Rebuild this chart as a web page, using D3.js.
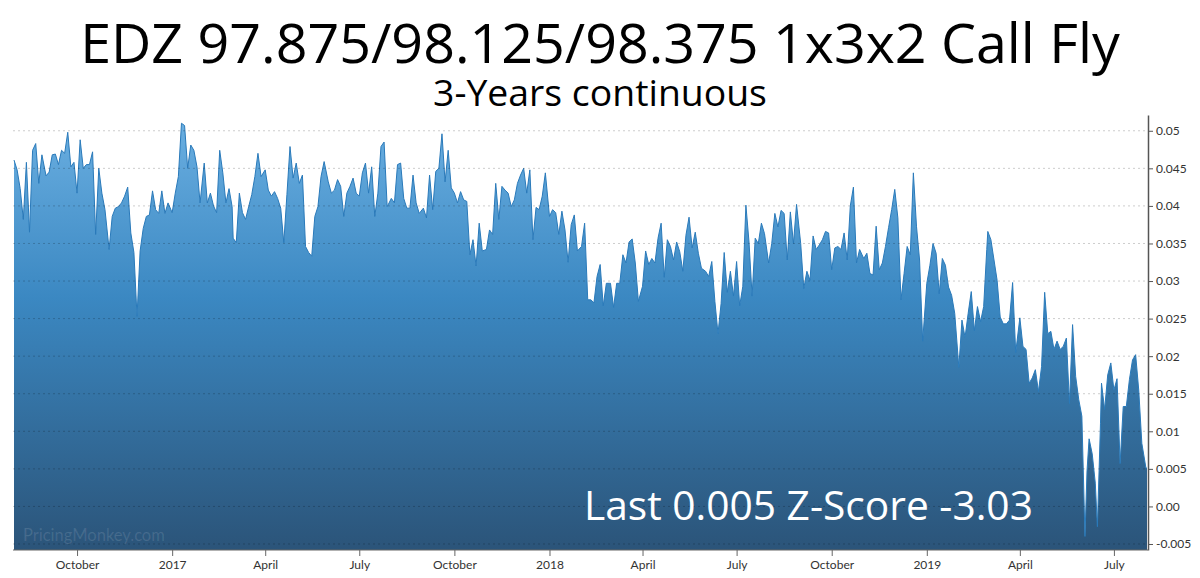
<!DOCTYPE html>
<html><head><meta charset="utf-8">
<script src="https://cdn.jsdelivr.net/npm/d3@7"></script>
<style>body{margin:0;background:#fff}svg{display:block}</style>
</head><body><svg id="c" width="1200" height="578"></svg>
<script>
const dates = [
"2016-08-01","2016-08-04","2016-08-07","2016-08-10","2016-08-13","2016-08-16","2016-08-19","2016-08-22","2016-08-25","2016-08-28",
"2016-09-01","2016-09-04","2016-09-07","2016-09-10","2016-09-13","2016-09-16","2016-09-19","2016-09-22","2016-09-25","2016-09-28",
"2016-10-01","2016-10-04","2016-10-07","2016-10-10","2016-10-13","2016-10-16","2016-10-19","2016-10-22","2016-10-25","2016-10-28",
"2016-11-01","2016-11-04","2016-11-07","2016-11-10","2016-11-13","2016-11-16","2016-11-19","2016-11-22","2016-11-25","2016-11-28",
"2016-12-01","2016-12-04","2016-12-07","2016-12-10","2016-12-13","2016-12-16","2016-12-19","2016-12-22","2016-12-25","2016-12-28",
"2017-01-01","2017-01-04","2017-01-07","2017-01-10","2017-01-13","2017-01-16","2017-01-19","2017-01-22","2017-01-25","2017-01-28",
"2017-02-01","2017-02-04","2017-02-07","2017-02-10","2017-02-13","2017-02-16","2017-02-19","2017-02-22","2017-02-25","2017-02-28",
"2017-03-01","2017-03-04","2017-03-07","2017-03-10","2017-03-13","2017-03-16","2017-03-19","2017-03-22","2017-03-25","2017-03-28",
"2017-04-01","2017-04-04","2017-04-07","2017-04-10","2017-04-13","2017-04-16","2017-04-19","2017-04-22","2017-04-25","2017-04-28",
"2017-05-01","2017-05-04","2017-05-07","2017-05-10","2017-05-13","2017-05-16","2017-05-19","2017-05-22","2017-05-25","2017-05-28",
"2017-06-01","2017-06-04","2017-06-07","2017-06-10","2017-06-13","2017-06-16","2017-06-19","2017-06-22","2017-06-25","2017-06-28",
"2017-07-01","2017-07-04","2017-07-07","2017-07-10","2017-07-13","2017-07-16","2017-07-19","2017-07-22","2017-07-25","2017-07-28",
"2017-08-01","2017-08-04","2017-08-07","2017-08-10","2017-08-13","2017-08-16","2017-08-19","2017-08-22","2017-08-25","2017-08-28",
"2017-09-01","2017-09-04","2017-09-07","2017-09-10","2017-09-13","2017-09-16","2017-09-19","2017-09-22","2017-09-25","2017-09-28",
"2017-10-01","2017-10-04","2017-10-07","2017-10-10","2017-10-13","2017-10-16","2017-10-19","2017-10-22","2017-10-25","2017-10-28",
"2017-11-01","2017-11-04","2017-11-07","2017-11-10","2017-11-13","2017-11-16","2017-11-19","2017-11-22","2017-11-25","2017-11-28",
"2017-12-01","2017-12-04","2017-12-07","2017-12-10","2017-12-13","2017-12-16","2017-12-19","2017-12-22","2017-12-25","2017-12-28",
"2018-01-01","2018-01-04","2018-01-07","2018-01-10","2018-01-13","2018-01-16","2018-01-19","2018-01-22","2018-01-25","2018-01-28",
"2018-02-01","2018-02-04","2018-02-07","2018-02-10","2018-02-13","2018-02-16","2018-02-19","2018-02-22","2018-02-25","2018-02-28",
"2018-03-01","2018-03-04","2018-03-07","2018-03-10","2018-03-13","2018-03-16","2018-03-19","2018-03-22","2018-03-25","2018-03-28",
"2018-04-01","2018-04-04","2018-04-07","2018-04-10","2018-04-13","2018-04-16","2018-04-19","2018-04-22","2018-04-25","2018-04-28",
"2018-05-01","2018-05-04","2018-05-07","2018-05-10","2018-05-13","2018-05-16","2018-05-19","2018-05-22","2018-05-25","2018-05-28",
"2018-06-01","2018-06-04","2018-06-07","2018-06-10","2018-06-13","2018-06-16","2018-06-19","2018-06-22","2018-06-25","2018-06-28",
"2018-07-01","2018-07-04","2018-07-07","2018-07-10","2018-07-13","2018-07-16","2018-07-19","2018-07-22","2018-07-25","2018-07-28",
"2018-08-01","2018-08-04","2018-08-07","2018-08-10","2018-08-13","2018-08-16","2018-08-19","2018-08-22","2018-08-25","2018-08-28",
"2018-09-01","2018-09-04","2018-09-07","2018-09-10","2018-09-13","2018-09-16","2018-09-19","2018-09-22","2018-09-25","2018-09-28",
"2018-10-01","2018-10-04","2018-10-07","2018-10-10","2018-10-13","2018-10-16","2018-10-19","2018-10-22","2018-10-25","2018-10-28",
"2018-11-01","2018-11-04","2018-11-07","2018-11-10","2018-11-13","2018-11-16","2018-11-19","2018-11-22","2018-11-25","2018-11-28",
"2018-12-01","2018-12-04","2018-12-07","2018-12-10","2018-12-13","2018-12-16","2018-12-19","2018-12-22","2018-12-25","2018-12-28",
"2019-01-01","2019-01-04","2019-01-07","2019-01-10","2019-01-13","2019-01-16","2019-01-19","2019-01-22","2019-01-25","2019-01-28",
"2019-02-01","2019-02-04","2019-02-07","2019-02-10","2019-02-13","2019-02-16","2019-02-19","2019-02-22","2019-02-25","2019-02-28",
"2019-03-01","2019-03-04","2019-03-07","2019-03-10","2019-03-13","2019-03-16","2019-03-19","2019-03-22","2019-03-25","2019-03-28",
"2019-04-01","2019-04-04","2019-04-07","2019-04-10","2019-04-13","2019-04-16","2019-04-19","2019-04-22","2019-04-25","2019-04-28",
"2019-05-01","2019-05-04","2019-05-07","2019-05-10","2019-05-13","2019-05-16","2019-05-19","2019-05-22","2019-05-25","2019-05-28","2019-05-31",
"2019-06-03","2019-06-05","2019-06-07","2019-06-10","2019-06-13","2019-06-15","2019-06-18","2019-06-19","2019-06-22","2019-06-25","2019-06-28",
"2019-07-01","2019-07-04","2019-07-07","2019-07-10","2019-07-13","2019-07-16","2019-07-19","2019-07-22","2019-07-25","2019-07-28",
"2019-08-01","2019-08-02"
];
const values = [
0.0461,0.0448,0.0423,0.0382,0.0458,0.0365,0.0474,0.0483,0.0430,0.0468,
0.0440,0.0445,0.0468,0.0469,0.0455,0.0474,0.0470,0.0498,0.0452,0.0458,
0.0417,0.0488,0.0450,0.0455,0.0455,0.0472,0.0362,0.0450,0.0417,0.0395,
0.0342,0.0386,0.0397,0.0399,0.0404,0.0413,0.0425,0.0364,0.0338,0.0253,
0.0340,0.0370,0.0386,0.0388,0.0420,0.0395,0.0390,0.0420,0.0390,0.0404,
0.0391,0.0417,0.0439,0.0510,0.0507,0.0450,0.0481,0.0474,0.0452,0.0404,
0.0457,0.0404,0.0417,0.0400,0.0391,0.0474,0.0444,0.0404,0.0423,0.0399,
0.0357,0.0351,0.0417,0.0391,0.0382,0.0399,0.0415,0.0439,0.0470,0.0439,
0.0448,0.0421,0.0413,0.0419,0.0410,0.0397,0.0351,0.0415,0.0479,0.0437,
0.0457,0.0430,0.0441,0.0346,0.0338,0.0333,0.0386,0.0399,0.0439,0.0459,
0.0432,0.0417,0.0421,0.0435,0.0426,0.0386,0.0417,0.0426,0.0437,0.0417,
0.0413,0.0444,0.0457,0.0417,0.0452,0.0386,0.0417,0.0479,0.0485,0.0399,
0.0410,0.0404,0.0455,0.0457,0.0410,0.0397,0.0397,0.0441,0.0404,0.0390,
0.0397,0.0384,0.0441,0.0395,0.0446,0.0450,0.0496,0.0432,0.0474,0.0424,
0.0417,0.0404,0.0419,0.0408,0.0406,0.0335,0.0355,0.0320,0.0377,0.0340,
0.0342,0.0368,0.0362,0.0430,0.0382,0.0426,0.0421,0.0417,0.0399,0.0408,
0.0430,0.0441,0.0450,0.0417,0.0448,0.0355,0.0398,0.0395,0.0413,0.0444,
0.0386,0.0395,0.0391,0.0362,0.0393,0.0368,0.0325,0.0375,0.0388,0.0340,
0.0346,0.0377,0.0275,0.0275,0.0271,0.0306,0.0322,0.0267,0.0297,0.0297,
0.0297,0.0265,0.0297,0.0297,0.0335,0.0324,0.0352,0.0356,0.0324,0.0273,
0.0293,0.0340,0.0322,0.0330,0.0324,0.0357,0.0377,0.0305,0.0355,0.0346,
0.0328,0.0352,0.0339,0.0313,0.0361,0.0385,0.0344,0.0365,0.0337,0.0317,
0.0313,0.0306,0.0326,0.0273,0.0230,0.0270,0.0338,0.0285,0.0313,0.0280,
0.0326,0.0267,0.0293,0.0401,0.0352,0.0280,0.0357,0.0350,0.0377,0.0363,
0.0324,0.0350,0.0390,0.0372,0.0394,0.0390,0.0328,0.0392,0.0350,0.0402,
0.0350,0.0290,0.0313,0.0301,0.0360,0.0342,0.0348,0.0355,0.0366,0.0364,
0.0315,0.0344,0.0346,0.0342,0.0364,0.0328,0.0400,0.0425,0.0324,0.0342,
0.0330,0.0337,0.0310,0.0308,0.0373,0.0315,0.0324,0.0346,0.0371,0.0395,
0.0422,0.0384,0.0275,0.0310,0.0346,0.0335,0.0444,0.0373,0.0328,0.0220,
0.0297,0.0321,0.0350,0.0337,0.0283,0.0330,0.0321,0.0292,0.0281,0.0257,
0.0185,0.0248,0.0225,0.0257,0.0286,0.0234,0.0266,0.0246,0.0266,0.0342,
0.0366,0.0355,0.0328,0.0301,0.0252,0.0243,0.0243,0.0248,0.0298,0.0205,
0.0251,0.0213,0.0209,0.0164,0.0171,0.0182,0.0153,0.0186,0.0285,0.0230,
0.0233,0.0209,0.0220,0.0209,0.0213,0.0224,0.0137,0.0242,0.0173,0.0142,0.0120,
-0.0040,0.0048,0.0090,0.0070,0.0031,-0.0027,0.0110,0.0164,0.0129,0.0175,0.0191,
0.0155,0.0170,0.0057,0.0133,0.0133,0.0169,0.0195,0.0202,0.0155,0.0084,
0.0051,0.0051
];
const xTickDates = ["2016-10-01","2017-01-01","2017-04-01","2017-07-01","2017-10-01","2018-01-01","2018-04-01","2018-07-01","2018-10-01","2019-01-01","2019-04-01","2019-07-01"];
const xTickLabels = ["October","2017","April","July","October","2018","April","July","October","2019","April","July"];
const yTicks = [-0.005,0,0.005,0.01,0.015,0.02,0.025,0.03,0.035,0.04,0.045,0.05];
const yTickLabels = ["-0.005","0.00","0.005","0.01","0.015","0.02","0.025","0.03","0.035","0.04","0.045","0.05"];
const yDomain = [-0.0058, 0.0521];
const titleText = "EDZ 97.875/98.125/98.375 1x3x2 Call Fly";
const subtitleText = "3-Years continuous";
const annotationText = "Last 0.005 Z-Score -3.03";
const watermarkText = "PricingMonkey.com";

const svg = d3.select("#c");
const P = {left:13, right:1148, top:115, bottom:550};
const parse = d3.timeParse("%Y-%m-%d");
const data = dates.map((d,i)=>({date:parse(d), value:values[i]}));
const x = d3.scaleTime().domain(d3.extent(data,d=>d.date)).range([14,1147]);
const y = d3.scaleLinear().domain(yDomain).range([P.bottom,P.top]);

const defs = svg.append("defs");
const grad = defs.append("linearGradient").attr("id","g").attr("gradientUnits","userSpaceOnUse")
  .attr("x1",0).attr("x2",0).attr("y1",P.top).attr("y2",P.bottom);
grad.append("stop").attr("offset",0).attr("stop-color","#6cb0e2");
grad.append("stop").attr("offset",0.42).attr("stop-color","#3b88c2");
grad.append("stop").attr("offset",1).attr("stop-color","#2b5479");

const area = d3.area().x(d=>x(d.date)).y0(y(yDomain[0])).y1(d=>y(d.value));
const line = d3.line().x(d=>x(d.date)).y(d=>y(d.value));
svg.append("path").datum(data).attr("d",area).attr("fill","url(#g)");
svg.append("path").datum(data).attr("d",line).attr("fill","none").attr("stroke","#2a7aba").attr("stroke-width",1);

// grid
svg.append("g").selectAll("line").data(yTicks).join("line")
  .attr("x1",P.left).attr("x2",P.right).attr("y1",d=>y(d)).attr("y2",d=>y(d))
  .attr("stroke","rgba(0,0,0,0.2)").attr("stroke-dasharray","2,3");

// axes
const yAxis = d3.axisRight(y).tickValues(yTicks).tickFormat((d,i)=>yTickLabels[i]).tickSize(5).tickSizeOuter(0).tickPadding(3);
const gy = svg.append("g").attr("transform",`translate(${P.right},0)`).call(yAxis);
gy.select(".domain").attr("stroke","#555").attr("stroke-width",1.5);
gy.selectAll(".tick line").attr("stroke","#555");
gy.selectAll("text").attr("font-family","Lato").attr("font-size",12).attr("fill","#333");

const xAxis = d3.axisBottom(x).tickValues(xTickDates.map(parse)).tickFormat((d,i)=>xTickLabels[i]).tickSize(6).tickSizeOuter(0).tickPadding(4);
const gx = svg.append("g").attr("transform",`translate(0,${P.bottom})`).call(xAxis);
gx.select(".domain").attr("d",`M${P.left},0H${P.right}`).attr("stroke","#666").attr("stroke-width",1.2);
gx.selectAll(".tick line").attr("stroke","#666");
gx.selectAll("text").attr("font-family","Lato").attr("font-size",12).attr("fill","#333");

function fit(sel, target){
  const fs = +sel.attr("font-size");
  const w = sel.node().getComputedTextLength();
  sel.attr("font-size", fs*target/w);
}
const t = svg.append("text").text(titleText).attr("x",600).attr("y",63).attr("text-anchor","middle")
  .attr("font-family","Open Sans").attr("font-size",56).attr("fill","#000");
fit(t,1040);
const st = svg.append("text").text(subtitleText).attr("x",600).attr("y",106).attr("text-anchor","middle")
  .attr("font-family","Open Sans").attr("font-size",32).attr("fill","#000");
fit(st,334);
const an = svg.append("text").text(annotationText).attr("x",584).attr("y",520)
  .attr("font-family","Open Sans").attr("font-size",40).attr("fill","#fff");
fit(an,449);
const wm = svg.append("text").text(watermarkText).attr("x",23).attr("y",541)
  .attr("font-family","Lato").attr("font-size",17).attr("fill","rgba(255,255,255,0.12)");
fit(wm,142);
</script></body></html>
